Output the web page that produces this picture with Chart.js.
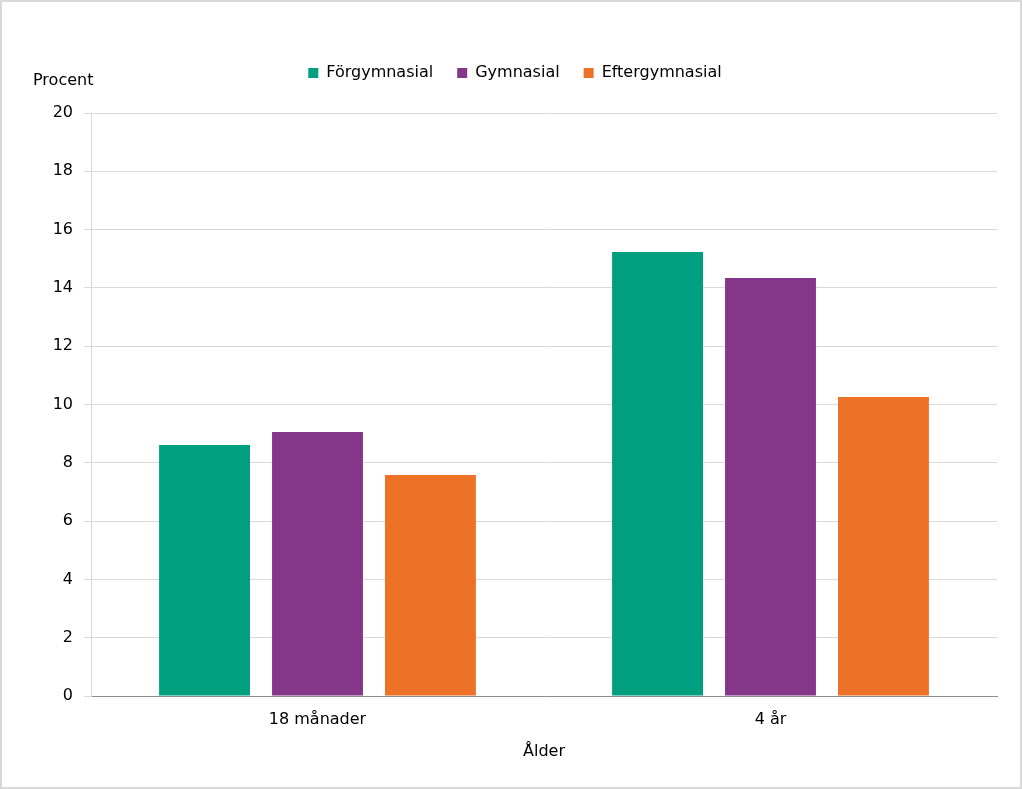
<!DOCTYPE html>
<html>
<head>
<meta charset="utf-8">
<script src="https://cdn.jsdelivr.net/npm/chart.js@4/dist/chart.umd.min.js"></script>
<style>
    body { margin: 0; background: #fff; }
    canvas { display: block; }
</style>
</head>
<body>
<canvas id="barChart" width="1022" height="789"></canvas>
<script>
const categories = ['18 månader', '4 år'];
const seriesNames = ['Förgymnasial', 'Gymnasial', 'Eftergymnasial'];
const forgymnasial = [8.61, 15.23];
const gymnasial = [9.06, 14.34];
const eftergymnasial = [7.58, 10.26];
const yTicks = [0, 2, 4, 6, 8, 10, 12, 14, 16, 18, 20];

const colors = ['#009f7f', '#843789', '#ee7128'];
const fontFamily = "'DejaVu Sans', sans-serif";

// grey frame round the whole picture
const framePlugin = {
    id: 'frame',
    beforeDraw(chart) {
        const ctx = chart.ctx;
        ctx.save();
        ctx.fillStyle = '#fff';
        ctx.fillRect(0, 0, chart.width, chart.height);
        ctx.strokeStyle = '#d9d9d9';
        ctx.lineWidth = 2;
        ctx.strokeRect(1, 1, chart.width - 2, chart.height - 2);
        ctx.restore();
    }
};

const barChart = document.getElementById('barChart');
new Chart(barChart, {
    type: 'bar',
    data: {
        labels: categories,
        datasets: [
            { label: seriesNames[0], data: forgymnasial, backgroundColor: colors[0] },
            { label: seriesNames[1], data: gymnasial, backgroundColor: colors[1] },
            { label: seriesNames[2], data: eftergymnasial, backgroundColor: colors[2] }
        ]
    },
    options: {
        responsive: false,
        animation: false,
        categoryPercentage: 0.748,
        barPercentage: 0.805,
        layout: { padding: { left: 33, right: 25, top: 41, bottom: 0 } },
        font: { family: fontFamily, size: 16 },
        color: '#000',
        plugins: {
            legend: {
                position: 'top',
                weight: 1000,
                labels: {
                    boxWidth: 10,
                    boxHeight: 10,
                    padding: 24,
                    color: '#000',
                    font: { family: fontFamily, size: 16 }
                }
            },
            // y axis name sits horizontally above the axis, under the legend
            title: {
                display: true,
                text: 'Procent',
                position: 'top',
                align: 'start',
                weight: 500,
                color: '#000',
                font: { family: fontFamily, size: 16, weight: 'normal' },
                padding: { top: -20, bottom: 22.8 }
            },
            tooltip: { enabled: false }
        },
        scales: {
            x: {
                grid: { display: false, drawTicks: false },
                border: { display: true, color: '#8c8c8c', width: 1 },
                ticks: {
                    color: '#000',
                    padding: 14,
                    font: { family: fontFamily, size: 16 }
                },
                title: {
                    display: true,
                    text: 'Ålder',
                    color: '#000',
                    font: { family: fontFamily, size: 16 },
                    padding: { top: 0, bottom: 28 }
                },
                afterFit(scale) { scale.height = 93; }
            },
            y: {
                min: 0,
                max: 20,
                afterBuildTicks(scale) {
                    scale.ticks = yTicks.map(v => ({ value: v }));
                },
                grid: { color: '#d9d9d9', tickLength: 7, drawTicks: true },
                border: { display: true, color: '#d9d9d9' },
                ticks: {
                    color: '#000',
                    padding: 11,
                    font: { family: fontFamily, size: 16 }
                },
                afterFit(scale) { scale.width = 58; }
            }
        }
    },
    plugins: [framePlugin]
});
</script>
</body>
</html>
